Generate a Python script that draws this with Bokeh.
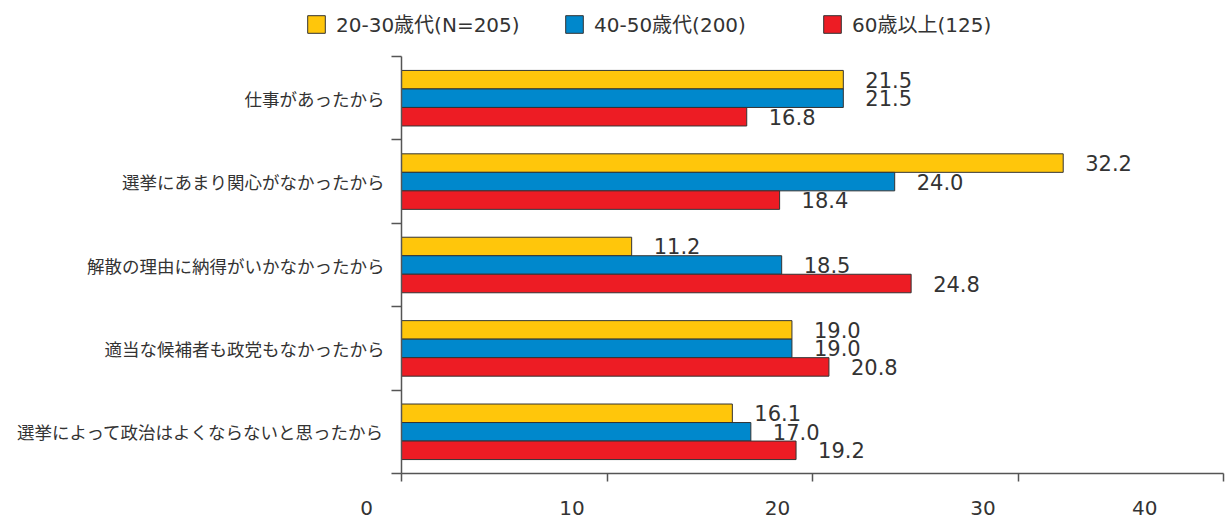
from bokeh.plotting import figure
from bokeh.layouts import column
from bokeh.models import (Range1d, LinearAxis, FixedTicker,
                          Legend, LegendItem, ColumnDataSource)
from bokeh.transform import dodge
from bokeh.core.properties import value
from bokeh.embed import file_html
from bokeh.resources import INLINE

# ---- data ----
categories = ["仕事があったから",
              "選挙にあまり関心がなかったから",
              "解散の理由に納得がいかなかったから",
              "適当な候補者も政党もなかったから",
              "選挙によって政治はよくならないと思ったから"]
series_names = ["20-30歳代(N=205)", "40-50歳代(200)", "60歳以上(125)"]
age_20_30 = [21.5, 32.2, 11.2, 19.0, 16.1]
age_40_50 = [21.5, 24.0, 18.5, 19.0, 17.0]
age_60_up = [16.8, 18.4, 24.8, 20.8, 19.2]
x_ticks = [0, 10, 20, 30, 40]
colors = ["#FFC60B", "#0088CC", "#ED1C24"]

# ---- layout constants ----
W = 1227
LEG_H = 50
H = 522 - LEG_H
BL, BR, BT, BB = 401, 4, 6, 45

LATIN = "DejaVu Sans, Noto Sans CJK JP"
CJK = "Noto Sans CJK JP"
TXT = "#333333"
AX = "#555555"
NBSP = "\u00a0"

n = len(categories)
centers = [n - i - 0.5 for i in range(n)]   # first category at the top

src = ColumnDataSource(dict(
    yc=centers,
    s0=age_20_30, s1=age_40_50, s2=age_60_up,
    t0=[f"{v:.1f}" for v in age_20_30],
    t1=[f"{v:.1f}" for v in age_40_50],
    t2=[f"{v:.1f}" for v in age_60_up],
))

p = figure(width=W, height=H, output_backend="svg", toolbar_location=None,
           x_range=Range1d(0, 40), y_range=Range1d(0, n),
           x_axis_location=None, y_axis_location=None,
           min_border_left=BL, min_border_right=BR, min_border_top=BT, min_border_bottom=BB)
p.frame_align = False
p.grid.grid_line_color = None
p.outline_line_color = None
p.background_fill_color = "white"

bar_h = 0.222
offsets = [bar_h, 0.0, -bar_h]
for i in range(3):
    p.hbar(y=dodge("yc", offsets[i]), left=0, right=f"s{i}",
           height=bar_h, fill_color=colors[i], line_color="#333333", line_width=1,
           source=src)
    p.text(x=f"s{i}", y=dodge("yc", offsets[i]), text=f"t{i}",
           x_offset=22, text_baseline="middle", text_align="left",
           text_font=value(LATIN), text_font_size="21px", text_color=TXT, source=src)

# y axis: boundary ticks on the frame + category labels at the centres
yt = LinearAxis(ticker=FixedTicker(ticks=list(range(n + 1))),
                major_tick_out=10, major_tick_in=0, minor_tick_line_color=None,
                major_label_overrides={i: "" for i in range(n + 1)},
                major_label_standoff=0, major_label_text_font_size="1px",
                axis_line_color=AX, axis_line_width=1.5,
                major_tick_line_color=AX, major_tick_line_width=1.5)
p.add_layout(yt, "left")
p.extra_y_ranges = {"yl": Range1d(0, n)}
ycat = LinearAxis(y_range_name="yl", ticker=FixedTicker(ticks=centers),
                  major_label_overrides={c: name for c, name in zip(centers, categories)},
                  axis_line_color=None, major_tick_line_color=None,
                  minor_tick_line_color=None, major_label_standoff=1,
                  major_label_text_font=CJK, major_label_text_font_size="17.5px",
                  major_label_text_color=TXT)
p.add_layout(ycat, "left")

# x axis: ticks on the frame, labels set to the left of their ticks as in the original
xt = LinearAxis(ticker=FixedTicker(ticks=x_ticks),
                major_tick_out=8, major_tick_in=0, minor_tick_line_color=None,
                major_label_overrides={t: f"{t}" + NBSP * 11 for t in x_ticks},
                major_label_standoff=14, major_label_text_font=LATIN,
                major_label_text_font_size="20px", major_label_text_color=TXT,
                axis_line_color=AX, axis_line_width=1.5,
                major_tick_line_color=AX, major_tick_line_width=1.5)
p.add_layout(xt, "below")

# ---- legend strip above the chart ----
lg = figure(width=W, height=LEG_H, output_backend="svg", toolbar_location=None,
            x_range=Range1d(0, 40), y_range=Range1d(-2, -1),
            x_axis_location=None, y_axis_location=None,
            min_border_left=0, min_border_right=0, min_border_top=0, min_border_bottom=0)
lg.frame_align = False
lg.grid.grid_line_color = None
lg.outline_line_color = None
# same series, hidden: they only feed the legend
leg_renderers = [lg.hbar(y=dodge("yc", offsets[i]), left=0, right=f"s{i}", height=bar_h,
                         fill_color=colors[i], line_color="#333333", line_width=1,
                         source=src, visible=False)
                 for i in range(3)]
legend = Legend(items=[LegendItem(label=series_names[i], renderers=[leg_renderers[i]])
                       for i in range(3)],
                location=(305, 12), orientation="horizontal",
                border_line_color=None, background_fill_alpha=0,
                inactive_fill_alpha=0, click_policy="none",
                padding=0, margin=0, spacing=27, glyph_width=22, glyph_height=22,
                label_standoff=9, label_width=200, label_height=22,
                label_text_font=LATIN, label_text_font_size="20px",
                label_text_color=TXT, label_text_baseline="middle")
lg.add_layout(legend, "center")

layout = column(lg, p, spacing=0)
open("out.html", "w").write(file_html(layout, INLINE))
